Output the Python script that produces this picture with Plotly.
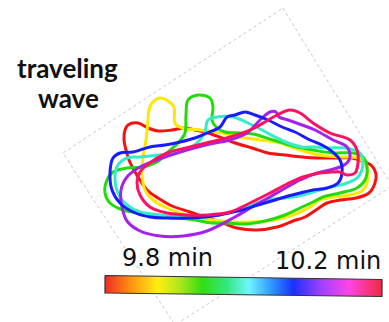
import plotly.graph_objects as go

# ---- data (image pixel coordinates) ----
time_labels = ["9.8 min", "10.2 min"]
title_lines = ["traveling", "wave"]

frame_x = [283, 392, 175, 63, 283]
frame_y = [8, 186, 325, 153, 8]

red_x = [128, 138, 148, 158, 172, 185, 195, 208, 222, 235, 252, 268, 285, 302, 318, 335, 352, 365, 372, 376, 375, 369, 356, 340, 327, 316, 305, 293, 277, 257, 237, 223, 207, 190, 172, 158, 147, 140, 135, 129, 126, 124, 125, 128]
red_y = [125, 123, 128, 131, 130, 128, 130, 133, 138, 143, 148, 153, 155, 157, 158, 158, 158, 162, 166, 174, 183, 193, 198, 200, 203, 210, 217, 221, 227, 230, 228, 223, 218, 212, 206, 198, 190, 180, 172, 160, 150, 140, 130, 125]

yellow_x = [160, 168, 174, 175, 182, 200, 217, 240, 260, 280, 300, 320, 340, 358, 366, 368, 363, 350, 333, 320, 310, 298, 283, 268, 250, 233, 205, 187, 167, 153, 145, 142, 143, 146, 148, 149, 152, 160]
yellow_y = [98, 101, 107, 123, 128, 130, 132, 137, 140, 143, 150, 155, 157, 158, 165, 177, 190, 195, 197, 200, 207, 213, 218, 221, 222, 222, 219, 215, 208, 200, 190, 173, 157, 140, 120, 110, 103, 98]

green_x = [188, 198, 210, 213, 212, 216, 225, 240, 253, 273, 293, 313, 333, 353, 363, 367, 365, 357, 340, 323, 313, 300, 285, 265, 245, 228, 212, 195, 180, 160, 140, 123, 110, 105, 107, 113, 127, 143, 157, 168, 178, 185, 186, 188]
green_y = [100, 95, 98, 107, 120, 127, 132, 133, 134, 140, 146, 150, 153, 153, 157, 167, 180, 188, 193, 197, 202, 208, 215, 221, 224, 223, 223, 220, 218, 216, 213, 210, 203, 193, 180, 172, 168, 167, 162, 152, 143, 133, 115, 100]

cyan_x = [205, 208, 217, 233, 248, 262, 275, 288, 302, 315, 328, 345, 360, 363, 358, 347, 327, 310, 293, 267, 247, 227, 207, 187, 177, 160, 140, 127, 118, 115, 118, 127, 140, 160, 177, 190, 200, 205]
cyan_y = [132, 120, 117, 117, 123, 130, 137, 143, 147, 147, 148, 148, 153, 163, 177, 183, 188, 193, 197, 200, 207, 213, 217, 217, 217, 215, 212, 205, 193, 177, 165, 158, 157, 155, 153, 148, 140, 132]

blue_x = [113, 120, 133, 150, 165, 180, 195, 207, 220, 227, 235, 245, 255, 268, 282, 295, 310, 322, 330, 340, 342, 338, 327, 313, 300, 288, 275, 258, 242, 233, 213, 187, 167, 150, 133, 120, 112, 110, 113]
blue_y = [158, 153, 152, 147, 145, 142, 138, 133, 127, 117, 115, 112, 115, 120, 127, 132, 140, 145, 150, 160, 173, 183, 188, 190, 193, 196, 200, 205, 210, 212, 216, 218, 218, 217, 212, 203, 190, 173, 158]

purple_x = [260, 270, 276, 279, 288, 302, 315, 333, 347, 350, 347, 340, 330, 317, 307, 300, 282, 268, 252, 235, 207, 183, 160, 140, 127, 122, 121, 127, 140, 157, 180, 210, 230, 247, 260]
purple_y = [120, 112, 112, 117, 120, 125, 130, 140, 147, 157, 163, 167, 170, 173, 177, 180, 190, 198, 207, 217, 231, 236, 236, 231, 221, 207, 190, 177, 167, 160, 152, 144, 140, 133, 120]

crimson_x = [290, 300, 313, 330, 350, 357, 358, 355, 347, 340, 333, 320, 303, 287, 270, 250, 230, 207, 187, 167, 150, 140, 137, 140, 147, 167, 190, 210, 230, 250, 265, 277, 290]
crimson_y = [110, 113, 123, 133, 140, 150, 163, 173, 175, 172, 172, 173, 177, 184, 193, 203, 212, 215, 215, 213, 207, 195, 183, 172, 165, 153, 147, 142, 137, 130, 122, 115, 110]

loops = [
    ("red", red_x, red_y, "#f5120f"),
    ("yellow", yellow_x, yellow_y, "#ffe800"),
    ("green", green_x, green_y, "#22dc0a"),
    ("cyan", cyan_x, cyan_y, "#35ecc8"),
    ("purple", purple_x, purple_y, "#a522ee"),
    ("blue", blue_x, blue_y, "#1a1cff"),
    ("crimson", crimson_x, crimson_y, "#ff1060"),
]

bar_colorscale = [
    [0.00, "#f02a25"], [0.10, "#ff9a10"], [0.19, "#ffee10"], [0.27, "#aee81a"],
    [0.35, "#33dd10"], [0.44, "#33e880"], [0.52, "#70f4ff"], [0.61, "#2a8cff"],
    [0.68, "#1a30ff"], [0.78, "#a040ff"], [0.88, "#ff44e6"], [1.00, "#f02a40"],
]

W, H = 389, 322
# colour-bar geometry (slightly tilted, as in the reference)
BAR_L, BAR_R = 105, 382
BAR_TOP_L, BAR_TOP_R, BAR_BOT_L, BAR_BOT_R = 275.5, 279.5, 293, 296.5

fig = go.Figure()

fig.add_trace(go.Scatter(x=frame_x, y=frame_y, mode="lines",
                         line=dict(color="#c8c8c8", width=1, dash="dot"),
                         hoverinfo="skip", showlegend=False))

for name, xs, ys, col in loops:
    fig.add_trace(go.Scatter(x=xs, y=ys, mode="lines", name=name,
                             line=dict(color=col, width=3, shape="spline", smoothing=1.0),
                             hoverinfo="skip", showlegend=False))

# colour bar: gradient-filled polygon with dark outline
fig.add_trace(go.Scatter(
    x=[BAR_L, BAR_R, BAR_R, BAR_L, BAR_L],
    y=[BAR_TOP_L, BAR_TOP_R, BAR_BOT_R, BAR_BOT_L, BAR_TOP_L],
    mode="lines", fill="toself",
    fillgradient=dict(type="horizontal", colorscale=bar_colorscale),
    line=dict(color="#333333", width=1.2),
    hoverinfo="skip", showlegend=False))

label_font = dict(family="DejaVu Sans", size=24, color="#111111")
fig.add_annotation(x=167, y=257.5, xref="x", yref="y", text=time_labels[0], showarrow=False,
                   font=label_font, xanchor="center", yanchor="middle")
fig.add_annotation(x=327.5, y=260.5, xref="x", yref="y", text=time_labels[1], showarrow=False,
                   font=label_font, xanchor="center", yanchor="middle")

title_font = dict(family="Lato", size=26, color="#111111")
fig.add_annotation(x=67, y=68, xref="x", yref="y", text="<b>%s</b>" % title_lines[0], showarrow=False,
                   font=title_font, xanchor="center", yanchor="middle")
fig.add_annotation(x=68, y=98, xref="x", yref="y", text="<b>%s</b>" % title_lines[1], showarrow=False,
                   font=title_font, xanchor="center", yanchor="middle")

fig.update_xaxes(range=[0, W], visible=False, fixedrange=True)
fig.update_yaxes(range=[H, 0], visible=False, fixedrange=True)
fig.update_layout(width=W, height=H, margin=dict(l=0, r=0, t=0, b=0, autoexpand=False),
                  paper_bgcolor="white", plot_bgcolor="white")

fig.write_html("out.html", config={"displayModeBar": False},
               post_script="document.body.style.margin='0';")
